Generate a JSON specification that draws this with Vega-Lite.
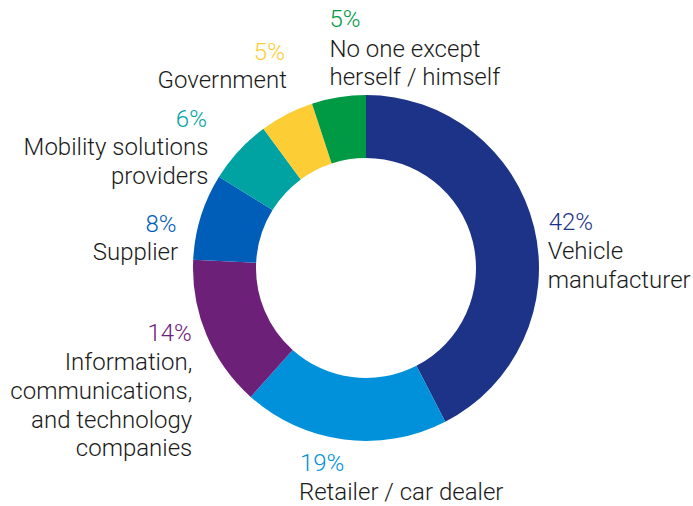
{
  "$schema": "https://vega.github.io/schema/vega-lite/v6.json",
  "width": 654,
  "height": 476,
  "autosize": {"type": "none"},
  "padding": {"left": 39, "top": 30, "right": 0, "bottom": 0},
  "background": "white",
  "config": {"view": {"stroke": null}, "text": {"font": "Roboto", "fontWeight": 300, "fontSize": 24}},
  "data": {"values": [
    {"category": "Vehicle manufacturer", "label": "Vehicle\nmanufacturer", "value": 0.42},
    {"category": "Retailer / car dealer", "label": "Retailer / car dealer", "value": 0.19},
    {"category": "Information, communications, and technology companies", "label": "Information,\ncommunications,\nand technology\ncompanies", "value": 0.14},
    {"category": "Supplier", "label": "Supplier", "value": 0.08},
    {"category": "Mobility solutions providers", "label": "Mobility solutions\nproviders", "value": 0.06},
    {"category": "Government", "label": "Government", "value": 0.05},
    {"category": "No one except herself / himself", "label": "No one except\nherself / himself", "value": 0.05}
  ]},
  "transform": [{"window": [{"op": "row_number", "as": "rank"}]}],
  "encoding": {
    "theta": {"field": "value", "type": "quantitative", "stack": true},
    "order": {"field": "rank", "type": "quantitative"},
    "color": {
      "field": "category", "type": "nominal", "legend": null,
      "scale": {
        "domain": ["Vehicle manufacturer", "Retailer / car dealer", "Information, communications, and technology companies", "Supplier", "Mobility solutions providers", "Government", "No one except herself / himself"],
        "range": ["#1c3387", "#0091da", "#6d2077", "#005eb8", "#00a3a1", "#fccd34", "#009a44"]
      }
    }
  },
  "layer": [
    {"mark": {"type": "arc", "innerRadius": 110, "outerRadius": 173}},

    {"mark": {"type": "text", "radius": 190, "align": "left", "baseline": "alphabetic", "dx": -2, "dy": 7},
     "encoding": {"text": {"condition": {"test": "datum.category === 'Vehicle manufacturer'", "field": "value", "type": "quantitative", "format": ".0%"}, "value": ""}}},
    {"mark": {"type": "text", "radius": 190, "align": "left", "baseline": "alphabetic", "dx": -3, "dy": 36, "lineBreak": "\n", "lineHeight": 28.5},
     "encoding": {"color": {"value": "#1a1a1a"}, "detail": {"field": "category"}, "text": {"condition": {"test": "datum.category === 'Vehicle manufacturer'", "field": "label", "type": "nominal"}, "value": ""}}},

    {"mark": {"type": "text", "radius": 190, "align": "left", "baseline": "alphabetic", "dx": -42, "dy": 15},
     "encoding": {"text": {"condition": {"test": "datum.category === 'Retailer / car dealer'", "field": "value", "type": "quantitative", "format": ".0%"}, "value": ""}}},
    {"mark": {"type": "text", "radius": 190, "align": "left", "baseline": "alphabetic", "dx": -43, "dy": 43.5, "lineBreak": "\n", "lineHeight": 28.5},
     "encoding": {"color": {"value": "#1a1a1a"}, "detail": {"field": "category"}, "text": {"condition": {"test": "datum.category === 'Retailer / car dealer'", "field": "label", "type": "nominal"}, "value": ""}}},

    {"mark": {"type": "text", "radius": 190, "align": "right", "baseline": "alphabetic", "dx": 1, "dy": -0.5},
     "encoding": {"text": {"condition": {"test": "datum.category === 'Information, communications, and technology companies'", "field": "value", "type": "quantitative", "format": ".0%"}, "value": ""}}},
    {"mark": {"type": "text", "radius": 190, "align": "right", "baseline": "alphabetic", "dx": 1.5, "dy": 29, "lineBreak": "\n", "lineHeight": 28.7},
     "encoding": {"color": {"value": "#1a1a1a"}, "detail": {"field": "category"}, "text": {"condition": {"test": "datum.category === 'Information, communications, and technology companies'", "field": "label", "type": "nominal"}, "value": ""}}},

    {"mark": {"type": "text", "radius": 190, "align": "right", "baseline": "alphabetic", "dx": -8, "dy": 20},
     "encoding": {"text": {"condition": {"test": "datum.category === 'Supplier'", "field": "value", "type": "quantitative", "format": ".0%"}, "value": ""}}},
    {"mark": {"type": "text", "radius": 190, "align": "right", "baseline": "alphabetic", "dx": -6.5, "dy": 48.5, "lineBreak": "\n", "lineHeight": 28.5},
     "encoding": {"color": {"value": "#1a1a1a"}, "detail": {"field": "category"}, "text": {"condition": {"test": "datum.category === 'Supplier'", "field": "label", "type": "nominal"}, "value": ""}}},

    {"mark": {"type": "text", "radius": 190, "align": "right", "baseline": "alphabetic", "dx": -19.5, "dy": -12.5},
     "encoding": {"text": {"condition": {"test": "datum.category === 'Mobility solutions providers'", "field": "value", "type": "quantitative", "format": ".0%"}, "value": ""}}},
    {"mark": {"type": "text", "radius": 190, "align": "right", "baseline": "alphabetic", "dx": -18, "dy": 16, "lineBreak": "\n", "lineHeight": 28.5},
     "encoding": {"color": {"value": "#1a1a1a"}, "detail": {"field": "category"}, "text": {"condition": {"test": "datum.category === 'Mobility solutions providers'", "field": "label", "type": "nominal"}, "value": ""}}},

    {"mark": {"type": "text", "radius": 190, "align": "right", "baseline": "alphabetic", "dx": 6, "dy": -39},
     "encoding": {"text": {"condition": {"test": "datum.category === 'Government'", "field": "value", "type": "quantitative", "format": ".0%"}, "value": ""}}},
    {"mark": {"type": "text", "radius": 190, "align": "right", "baseline": "alphabetic", "dx": 8, "dy": -11, "lineBreak": "\n", "lineHeight": 28.5},
     "encoding": {"color": {"value": "#1a1a1a"}, "detail": {"field": "category"}, "text": {"condition": {"test": "datum.category === 'Government'", "field": "label", "type": "nominal"}, "value": ""}}},

    {"mark": {"type": "text", "radius": 190, "align": "left", "baseline": "alphabetic", "dx": -6.5, "dy": -53.5},
     "encoding": {"text": {"condition": {"test": "datum.category === 'No one except herself / himself'", "field": "value", "type": "quantitative", "format": ".0%"}, "value": ""}}},
    {"mark": {"type": "text", "radius": 190, "align": "left", "baseline": "alphabetic", "dx": -6.5, "dy": -23.5, "lineBreak": "\n", "lineHeight": 28.5},
     "encoding": {"color": {"value": "#1a1a1a"}, "detail": {"field": "category"}, "text": {"condition": {"test": "datum.category === 'No one except herself / himself'", "field": "label", "type": "nominal"}, "value": ""}}}
  ]
}
